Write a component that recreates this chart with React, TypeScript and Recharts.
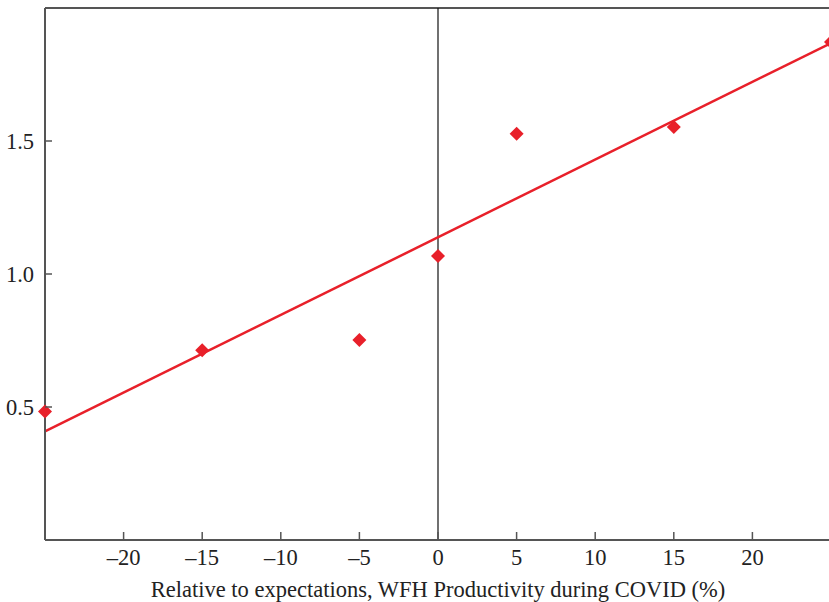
import React from "react";
import {
  ComposedChart,
  Scatter,
  Line,
  XAxis,
  YAxis,
  ReferenceLine,
} from "recharts";

// observed points: productivity vs. expectations (%) against outcome
const productivityPct = [-25, -15, -5, 0, 5, 15, 25];
const outcomeValues = [0.483, 0.713, 0.752, 1.068, 1.527, 1.553, 1.872];

// fitted line end points
const fitX = [-25, 25];
const fitY = [0.408, 1.868];

const xTicks = [-20, -15, -10, -5, 0, 5, 10, 15, 20];
const yTicks = [0.5, 1.0, 1.5];

const RED = "#e8202a";
const AXIS = "#555";
const FONT = "'Liberation Serif', 'Times New Roman', serif";
const FS = 22.5;

const points = productivityPct.map((x, i) => ({ x, y: outcomeValues[i] }));
const fitData = fitX.map((x, i) => ({ x, y: fitY[i] }));

function Diamond({ cx, cy }: any) {
  const r = 7;
  return (
    <polygon
      points={`${cx},${cy - r} ${cx + r},${cy} ${cx},${cy + r} ${cx - r},${cy}`}
      fill={RED}
    />
  );
}

function XTick({ x, y, payload }: any) {
  // y sits tickMargin below the axis line
  const axisY = y - 8;
  return (
    <g>
      <line x1={x} x2={x} y1={axisY} y2={axisY - 8} stroke={AXIS} strokeWidth={1.5} />
      <text x={x} y={y} dy={17} textAnchor="middle" fill="#222" fontSize={FS} fontFamily={FONT}>
        {payload.value < 0 ? `\u2013${Math.abs(payload.value)}` : payload.value}
      </text>
    </g>
  );
}

function YTick({ x, y, payload }: any) {
  const axisX = x + 11;
  return (
    <g>
      <line x1={axisX} x2={axisX + 7} y1={y} y2={y} stroke={AXIS} strokeWidth={1.5} />
      <text x={x} y={y} dy={7.5} textAnchor="end" fill="#222" fontSize={FS} fontFamily={FONT}>
        {payload.value.toFixed(1)}
      </text>
    </g>
  );
}

export default function App() {
  // the plot runs a couple of pixels past the right edge, so the frame crops it
  return (
    <div
      style={{
        position: "absolute",
        left: 0,
        top: 0,
        width: 829,
        height: 602,
        overflow: "hidden",
        background: "#fff",
      }}
    >
      <ComposedChart
        width={840}
        height={602}
        margin={{ top: 8, right: 9, left: 0, bottom: 0 }}
      >
        <XAxis
          dataKey="x"
          type="number"
          domain={[-25, 25]}
          ticks={xTicks}
          height={62}
          tickSize={0}
          tickMargin={8}
          tick={<XTick />}
          axisLine={{ stroke: AXIS, strokeWidth: 2 }}
          label={{
            value: "Relative to expectations, WFH Productivity during COVID (%)",
            position: "insideBottom",
            offset: 5,
            fontSize: FS,
            fontFamily: FONT,
            fill: "#222",
          }}
        />
        <YAxis
          dataKey="y"
          type="number"
          domain={[0, 2]}
          ticks={yTicks}
          width={45}
          tickSize={0}
          tickMargin={11}
          tick={<YTick />}
          axisLine={{ stroke: AXIS, strokeWidth: 2 }}
        />
        <ReferenceLine y={2} stroke={AXIS} strokeWidth={2} />
        <ReferenceLine x={0} stroke="#111" strokeWidth={1.2} />
        <Line
          data={fitData}
          dataKey="y"
          type="linear"
          stroke={RED}
          strokeWidth={2.5}
          dot={false}
          isAnimationActive={false}
        />
        <Scatter data={points} shape={<Diamond />} isAnimationActive={false} />
      </ComposedChart>
    </div>
  );
}
